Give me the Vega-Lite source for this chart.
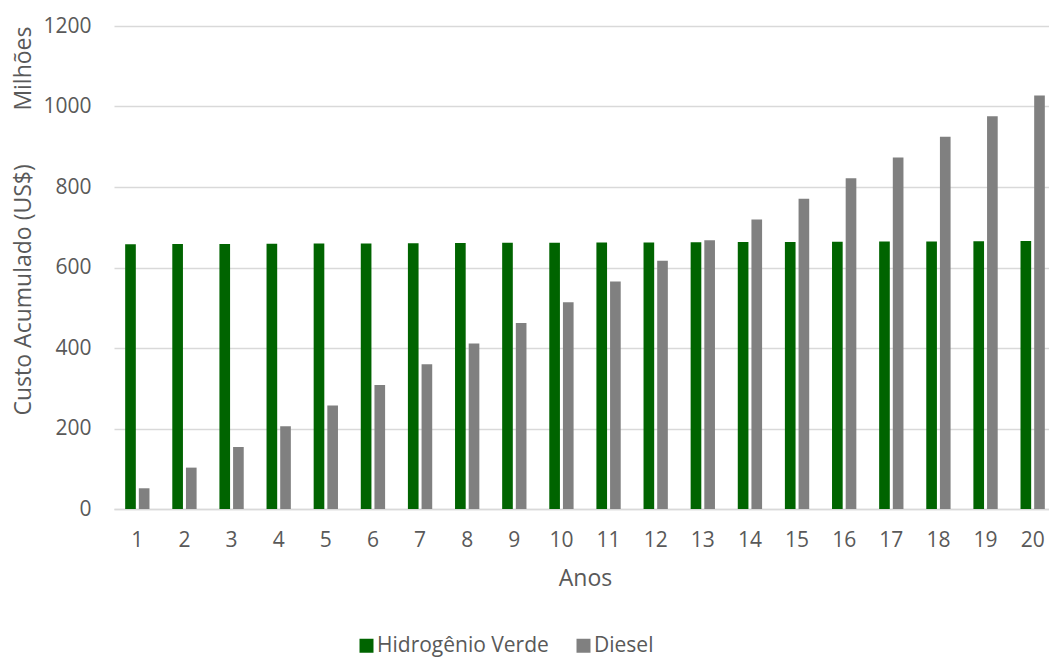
{
  "$schema": "https://vega.github.io/schema/vega-lite/v6.json",
  "autosize": {"type": "none"},
  "padding": {"left": 114, "top": 26, "right": 0, "bottom": 150},
  "width": 935,
  "height": 483,
  "background": "white",
  "config": {
    "font": "Open Sans",
    "view": {"stroke": null},
    "axis": {
      "labelColor": "#595959",
      "titleColor": "#595959",
      "labelFont": "Open Sans",
      "titleFont": "Open Sans",
      "labelFontSize": 21,
      "titleFontSize": 23,
      "titleFontWeight": "normal",
      "gridColor": "#d9d9d9",
      "gridWidth": 1.5,
      "domainColor": "#d9d9d9",
      "domainWidth": 1.5,
      "ticks": false,
      "labelOverlap": false
    },
    "legend": {
      "labelColor": "#595959",
      "labelFont": "Open Sans",
      "labelFontSize": 21,
      "labelLimit": 400
    }
  },
  "data": {
    "values": [
      {"Ano": 1, "Combustivel": "Hidrogênio Verde", "Custo": 657.6},
      {"Ano": 2, "Combustivel": "Hidrogênio Verde", "Custo": 658.1},
      {"Ano": 3, "Combustivel": "Hidrogênio Verde", "Custo": 658.6},
      {"Ano": 4, "Combustivel": "Hidrogênio Verde", "Custo": 659.0},
      {"Ano": 5, "Combustivel": "Hidrogênio Verde", "Custo": 659.5},
      {"Ano": 6, "Combustivel": "Hidrogênio Verde", "Custo": 659.9},
      {"Ano": 7, "Combustivel": "Hidrogênio Verde", "Custo": 660.3},
      {"Ano": 8, "Combustivel": "Hidrogênio Verde", "Custo": 660.8},
      {"Ano": 9, "Combustivel": "Hidrogênio Verde", "Custo": 661.2},
      {"Ano": 10, "Combustivel": "Hidrogênio Verde", "Custo": 661.6},
      {"Ano": 11, "Combustivel": "Hidrogênio Verde", "Custo": 662.0},
      {"Ano": 12, "Combustivel": "Hidrogênio Verde", "Custo": 662.4},
      {"Ano": 13, "Combustivel": "Hidrogênio Verde", "Custo": 662.8},
      {"Ano": 14, "Combustivel": "Hidrogênio Verde", "Custo": 663.2},
      {"Ano": 15, "Combustivel": "Hidrogênio Verde", "Custo": 663.6},
      {"Ano": 16, "Combustivel": "Hidrogênio Verde", "Custo": 664.0},
      {"Ano": 17, "Combustivel": "Hidrogênio Verde", "Custo": 664.4},
      {"Ano": 18, "Combustivel": "Hidrogênio Verde", "Custo": 664.8},
      {"Ano": 19, "Combustivel": "Hidrogênio Verde", "Custo": 665.2},
      {"Ano": 20, "Combustivel": "Hidrogênio Verde", "Custo": 665.6},
      {"Ano": 1, "Combustivel": "Diesel", "Custo": 51.5},
      {"Ano": 2, "Combustivel": "Diesel", "Custo": 102.8},
      {"Ano": 3, "Combustivel": "Diesel", "Custo": 154.2},
      {"Ano": 4, "Combustivel": "Diesel", "Custo": 205.5},
      {"Ano": 5, "Combustivel": "Diesel", "Custo": 256.9},
      {"Ano": 6, "Combustivel": "Diesel", "Custo": 308.3},
      {"Ano": 7, "Combustivel": "Diesel", "Custo": 359.6},
      {"Ano": 8, "Combustivel": "Diesel", "Custo": 411.0},
      {"Ano": 9, "Combustivel": "Diesel", "Custo": 462.4},
      {"Ano": 10, "Combustivel": "Diesel", "Custo": 513.7},
      {"Ano": 11, "Combustivel": "Diesel", "Custo": 565.1},
      {"Ano": 12, "Combustivel": "Diesel", "Custo": 616.5},
      {"Ano": 13, "Combustivel": "Diesel", "Custo": 667.8},
      {"Ano": 14, "Combustivel": "Diesel", "Custo": 719.2},
      {"Ano": 15, "Combustivel": "Diesel", "Custo": 770.6},
      {"Ano": 16, "Combustivel": "Diesel", "Custo": 821.9},
      {"Ano": 17, "Combustivel": "Diesel", "Custo": 873.3},
      {"Ano": 18, "Combustivel": "Diesel", "Custo": 924.7},
      {"Ano": 19, "Combustivel": "Diesel", "Custo": 976.0},
      {"Ano": 20, "Combustivel": "Diesel", "Custo": 1027.4}
    ]
  },
  "mark": {"type": "bar"},
  "encoding": {
    "x": {
      "field": "Ano",
      "type": "ordinal",
      "scale": {"range": [0, 942], "paddingInner": 0.484, "paddingOuter": 0.237},
      "axis": {
        "title": "Anos",
        "labelAngle": 0,
        "labelPadding": 20,
        "titlePadding": 17,
        "grid": false
      }
    },
    "xOffset": {
      "field": "Combustivel",
      "type": "nominal",
      "sort": ["Hidrogênio Verde", "Diesel"],
      "scale": {"paddingInner": 0.22, "paddingOuter": 0}
    },
    "y": {
      "field": "Custo",
      "type": "quantitative",
      "scale": {"domain": [0, 1200], "nice": false},
      "axis": {
        "title": "Custo Acumulado (US$)\u2003\u2003\u2004Milhões",
        "titleAnchor": "end",
        "values": [0, 200, 400, 600, 800, 1000, 1200],
        "format": "d",
        "domain": false,
        "labelPadding": 23,
        "titlePadding": 7
      }
    },
    "color": {
      "field": "Combustivel",
      "type": "nominal",
      "sort": ["Hidrogênio Verde", "Diesel"],
      "scale": {"domain": ["Hidrogênio Verde", "Diesel"], "range": ["#006400", "#808080"]},
      "legend": {
        "title": null,
        "orient": "none",
        "legendX": 242,
        "legendY": 609,
        "direction": "horizontal",
        "symbolType": "square",
        "symbolSize": 196,
        "symbolStrokeWidth": 0,
        "symbolOpacity": 1,
        "columnPadding": 24,
        "labelOffset": 0
      }
    }
  }
}
